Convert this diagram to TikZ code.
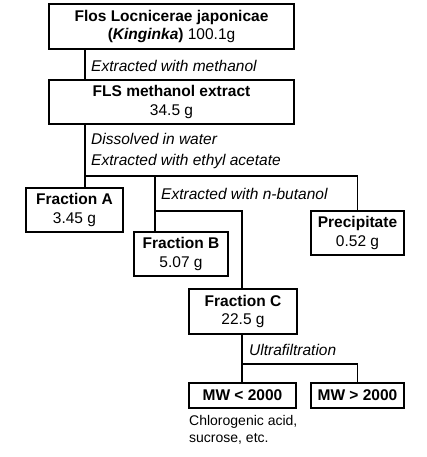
\documentclass[tikz,border=0pt]{standalone}
\usepackage{fontspec}
\setmainfont{Liberation Sans}
\begin{document}
\begin{tikzpicture}[x=1pt,y=-1pt,
  box/.style={draw,line width=1.9pt,align=center,inner sep=0pt,font=\fontsize{15.5}{18.5}\selectfont},
  note/.style={anchor=west,inner sep=0pt,align=left,font=\fontsize{15.5}{21}\selectfont\itshape},
  line/.style={line width=1.9pt}]
\useasboundingbox (0,0) rectangle (427,457);

\node[box,minimum width=245,minimum height=45] (src) at (171.5,26.5) {\textbf{Flos Locnicerae japonicae}\\\textbf{(\textit{Kinginka})} 100.1g};
\node[box,minimum width=245,minimum height=44] (ext) at (171.5,102) {\textbf{FLS methanol extract}\\34.5 g};
\node[box,minimum width=97,minimum height=44] (fa) at (74.5,210) {\textbf{Fraction A}\\3.45 g};
\node[box,minimum width=94,minimum height=44] (fb) at (181,254) {\textbf{Fraction B}\\5.07 g};
\node[box,minimum width=93,minimum height=44] (prc) at (357.5,233) {\textbf{Precipitate}\\0.52 g};
\node[box,minimum width=108,minimum height=45] (fc) at (243,311.5) {\textbf{Fraction C}\\22.5 g};
\node[box,minimum width=107,minimum height=25] (lo) at (242.5,395.5) {\textbf{MW < 2000}};
\node[box,minimum width=93,minimum height=25] (hi) at (357.5,395.5) {\textbf{MW > 2000}};

\coordinate (t1) at (85,176);
\coordinate (t2) at (155,176);
\coordinate (t3) at (155,211);
\coordinate (t4) at (242,364);

\draw[line] (src.south -| t1) -- (ext.north -| t1);
\draw[line] (ext.south -| t1) -- (fa.north -| t1);
\draw[line] (t1) -- (t1 -| prc.north) -- (prc.north);
\draw[line] (t2) -- (fb.north -| t2);
\draw[line] (t3) -- (t3 -| t4) -- (fc.north -| t4);
\draw[line] (fc.south -| t4) -- (lo.north -| t4);
\draw[line] (t4) -- (t4 -| hi.north) -- (hi.north);

\node[note] (m1) at (91,66) {Extracted with methanol};
\node[note] (m2) at (91,151) {Dissolved in water\\Extracted with ethyl acetate};
\node[note] (m3) at (161,194) {Extracted with n-butanol};
\node[note] (m4) at (249,350) {Ultrafiltration};
\node[note,anchor=north west,font=\fontsize{14}{17}\selectfont] (m5) at (189,415) {Chlorogenic acid,\\sucrose, etc.};
\end{tikzpicture}
\end{document}
